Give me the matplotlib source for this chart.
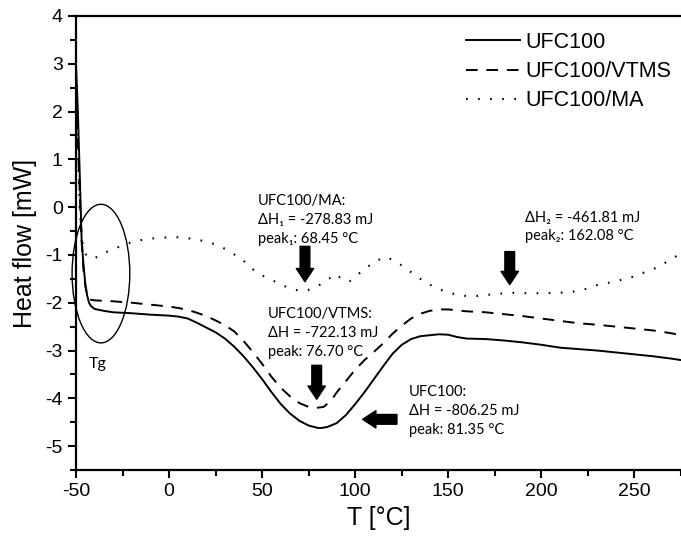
import matplotlib
matplotlib.use("Agg")
import matplotlib.pyplot as plt
from matplotlib.patches import Ellipse
from matplotlib.ticker import MultipleLocator

plt.rcParams['font.family'] = ['Liberation Sans', 'DejaVu Sans']
plt.rcParams['axes.unicode_minus'] = False

# UFC100 (solid)
t_ufc = [-50, -49.5, -49, -48, -47, -46, -45, -44, -43, -42, -40, -35, -30, -20, -10,
         0, 5, 10, 15, 20, 25, 30, 35, 40, 45, 50, 55, 60, 65, 70, 75, 80, 82, 85, 90, 95, 100,
         105, 110, 115, 120, 125, 130, 135, 140, 145, 150, 155, 160, 170, 180, 190, 200, 210,
         220, 230, 240, 250, 260, 270, 275]
hf_ufc = [2.95, 2.5, 2.0, 0.7, -0.65, -1.2, -1.6, -1.85, -2.0, -2.07, -2.13, -2.17, -2.2,
          -2.22, -2.25, -2.27, -2.29, -2.33, -2.42, -2.52, -2.62, -2.75, -2.92, -3.12, -3.35,
          -3.6, -3.87, -4.12, -4.32, -4.47, -4.57, -4.62, -4.62, -4.6, -4.52, -4.35, -4.12,
          -3.87, -3.6, -3.33, -3.07, -2.88, -2.76, -2.7, -2.68, -2.66, -2.67, -2.72, -2.75,
          -2.76, -2.79, -2.83, -2.88, -2.94, -2.97, -3.0, -3.04, -3.08, -3.12, -3.17, -3.2]

# UFC100/VTMS (dashed)
t_vtms = [-50, -49, -48, -47, -46, -45, -44, -43, -40, -30, -20, -10, 0, 5, 10, 15, 20, 25,
          30, 35, 40, 45, 50, 55, 60, 65, 70, 75, 79, 83, 87, 90, 95, 100, 105, 110, 115, 120,
          125, 130, 135, 140, 145, 150, 160, 170, 180, 190, 200, 210, 220, 230, 240, 250,
          260, 270, 275]
hf_vtms = [2.3, 1.4, 0.3, -0.7, -1.3, -1.65, -1.85, -1.93, -1.95, -1.97, -2.0, -2.04, -2.08,
           -2.11, -2.15, -2.21, -2.28, -2.37, -2.47, -2.6, -2.8, -3.03, -3.28, -3.55, -3.78,
           -3.96, -4.1, -4.18, -4.2, -4.18, -4.05, -3.88, -3.64, -3.4, -3.2, -3.03, -2.85,
           -2.65, -2.48, -2.33, -2.23, -2.17, -2.14, -2.14, -2.18, -2.2, -2.24, -2.28, -2.33,
           -2.38, -2.43, -2.46, -2.5, -2.54, -2.58, -2.64, -2.68]

# UFC100/MA (dotted)
t_ma = [-50, -49, -48, -47, -46, -45, -43, -41, -38, -35, -30, -25, -20, -15,
        -10, -5, 0, 5, 10, 15, 20, 25, 30, 35, 40, 45, 50, 55, 60, 65, 70, 75, 80, 85, 90, 93,
        97, 100, 105, 110, 116, 120, 125, 130, 135, 140, 145, 150, 155, 160, 165, 170, 175,
        183, 190, 200, 210, 215, 220, 225, 230, 240, 250, 255, 260, 265, 270, 275]
hf_ma = [2.8, 1.2, 0.0, -0.6, -0.88, -0.98, -1.05, -1.08, -1.03, -0.96, -0.88, -0.8,
         -0.73, -0.69, -0.66, -0.64, -0.63, -0.63, -0.65, -0.68, -0.72, -0.78, -0.87, -0.99,
         -1.12, -1.3, -1.43, -1.52, -1.62, -1.7, -1.75, -1.73, -1.65, -1.52, -1.4, -1.52,
         -1.55, -1.45, -1.3, -1.15, -1.04, -1.1, -1.22, -1.36, -1.5, -1.62, -1.72, -1.78,
         -1.84, -1.86, -1.86, -1.84, -1.82, -1.79, -1.8, -1.8, -1.79, -1.78, -1.75, -1.7,
         -1.63, -1.55, -1.45, -1.37, -1.3, -1.2, -1.08, -0.97]

fig = plt.figure(figsize=(6.81, 5.39), dpi=100)
ax = fig.add_axes([76 / 681, 1 - 470 / 539, 1 - 76 / 681, (470 - 16) / 539])

ax.plot(t_ufc, hf_ufc, color='black', lw=1.4, label='UFC100')
ax.plot(t_vtms, hf_vtms, color='black', lw=1.4, linestyle=(0, (6, 4.5)), label='UFC100/VTMS')
ax.plot(t_ma, hf_ma, color='black', lw=1.5, linestyle=(0, (0.8, 5)), label='UFC100/MA')

ax.set_xlim(-50, 275)
ax.set_ylim(-5.5, 4)
ax.xaxis.set_major_locator(MultipleLocator(50))
ax.xaxis.set_minor_locator(MultipleLocator(25))
ax.yaxis.set_major_locator(MultipleLocator(1))
ax.yaxis.set_minor_locator(MultipleLocator(0.5))
ax.tick_params(which='major', direction='out', length=6, width=1.5, labelsize=14)
ax.tick_params(which='minor', direction='out', length=4, width=1.5)
for s in ['left', 'bottom', 'top']:
    ax.spines[s].set_linewidth(1.6)
ax.spines['right'].set_visible(False)

ax.set_xlabel('T [°C]', fontsize=18, labelpad=4)
ax.set_ylabel('Heat flow [mW]', fontsize=18, labelpad=6)

ax.legend(loc='upper left', bbox_to_anchor=(466 / 681, 1 - 32 / 539),
          bbox_transform=fig.transFigure, frameon=False, fontsize=15.5,
          handlelength=2.5, handletextpad=0.25, labelspacing=0.38,
          borderpad=0, borderaxespad=0)

ann = dict(fontsize=10.5, family=['Lato', 'DejaVu Sans'], linespacing=1.45, va='top', ha='left')
ax.text(47.7, 0.28, 'UFC100/MA:\nΔH₁ = -278.83 mJ\npeak₁: 68.45 °C', **ann)
ax.text(191, -0.07, 'ΔH₂ = -461.81 mJ\npeak₂: 162.08 °C', **ann)
ax.text(53, -2.09, 'UFC100/VTMS:\nΔH = -722.13 mJ\npeak: 76.70 °C', **ann)
ax.text(128.8, -3.72, 'UFC100:\nΔH = -806.25 mJ\npeak: 81.35 °C', **ann)
ax.text(-38.5, -3.28, 'Tg', fontsize=11.5, family=['Lato', 'DejaVu Sans'], ha='center', va='center')

arrow = dict(arrowstyle='simple,head_length=0.95,head_width=1.25,tail_width=0.7',
             color='black', mutation_scale=10, shrinkA=0, shrinkB=0)
ax.annotate('', xy=(73, -1.56), xytext=(73, -0.82), arrowprops=arrow)
ax.annotate('', xy=(183, -1.62), xytext=(183, -0.93), arrowprops=arrow)
ax.annotate('', xy=(79.3, -4.02), xytext=(79.3, -3.31), arrowprops=arrow)
ax.annotate('', xy=(104, -4.44), xytext=(122.4, -4.44), arrowprops=arrow)

ax.add_patch(Ellipse((-36.6, -1.39), 31, 2.9, fill=False, color='black', lw=1.0, clip_on=False))

fig.savefig('out.png', dpi=100)
